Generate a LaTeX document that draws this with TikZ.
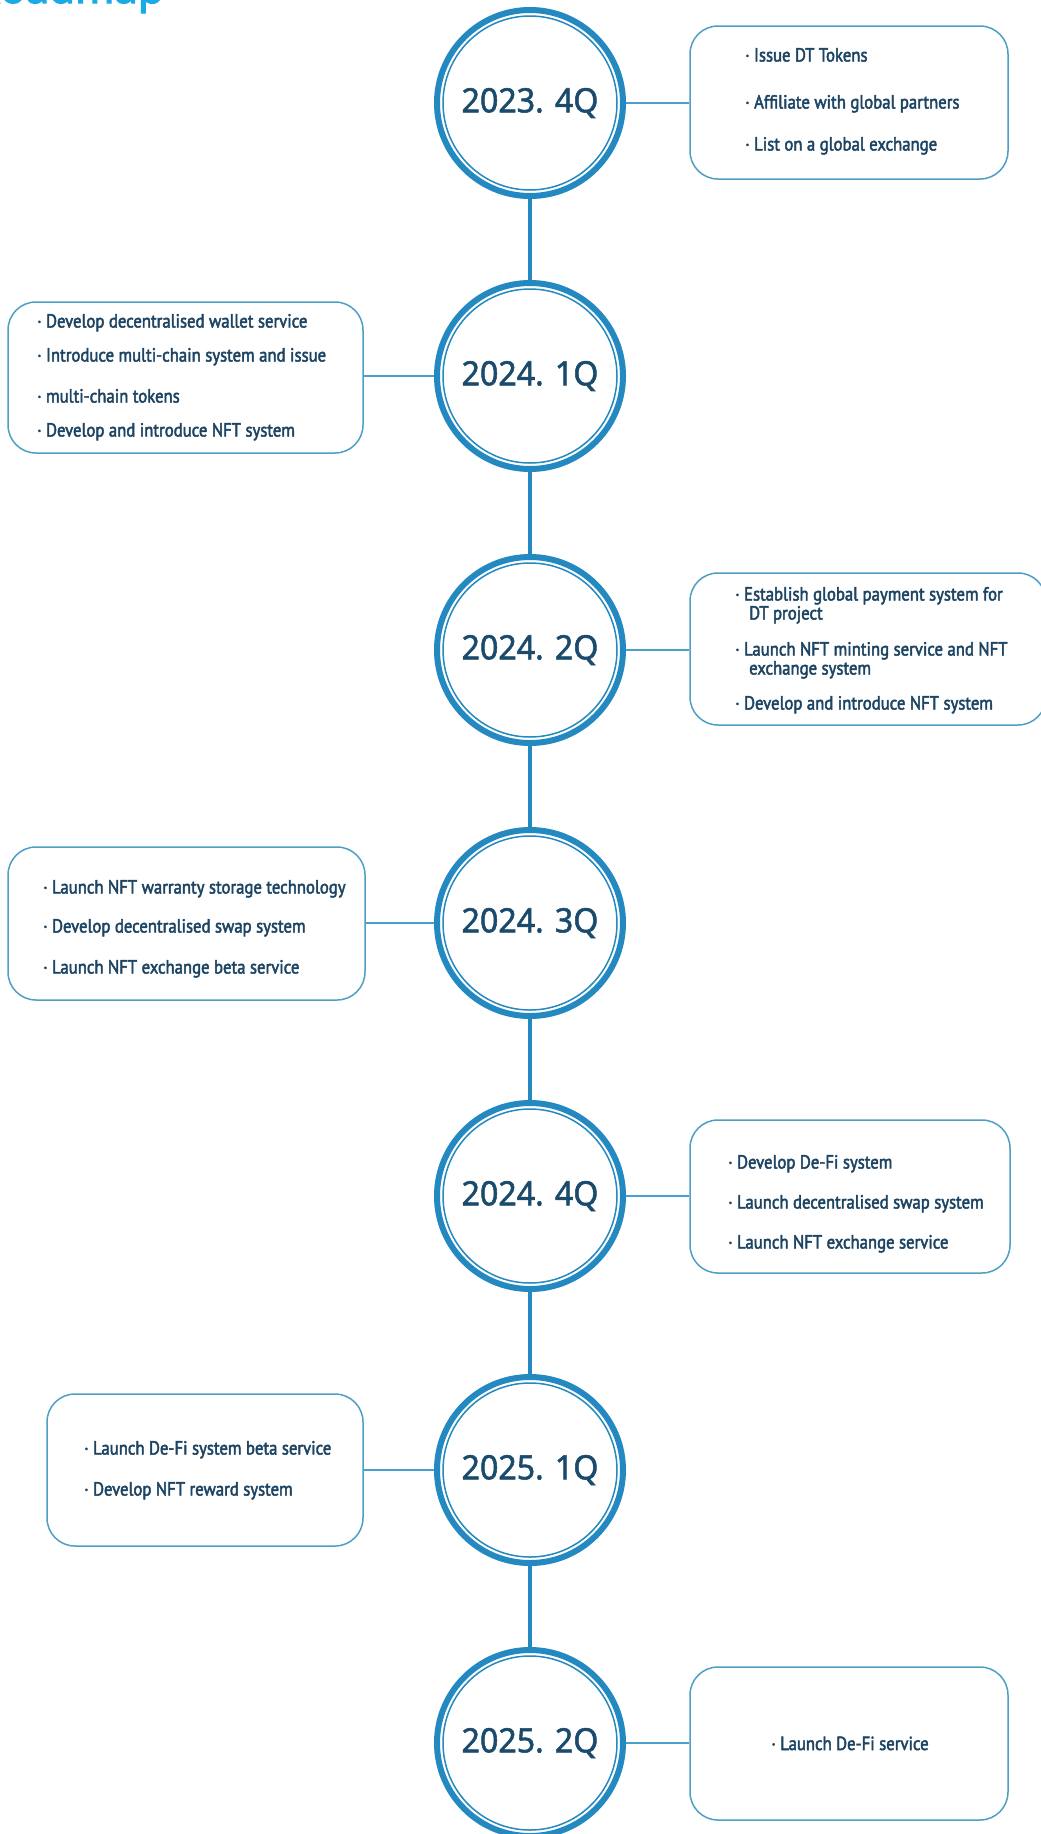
\documentclass[tikz,border=0pt]{standalone}
\usepackage{fontspec}
\newfontfamily\numfont{Noto Sans}[FakeBold=1.6, FakeStretch=0.96]
\newfontfamily\txtfont{PT Sans}[FakeBold=2.4, FakeStretch=0.88]
\newfontfamily\titlefont{Noto Sans}[FakeBold=3]
\definecolor{ringblue}{HTML}{2389C0}
\definecolor{connblue}{HTML}{4AA0CC}
\definecolor{boxblue}{HTML}{4F9FC4}
\definecolor{txtcol}{HTML}{1D4563}
\definecolor{numcol}{HTML}{1B4B6C}
\definecolor{titlecol}{HTML}{1AAAE6}
\tikzset{
  ring/.style={circle, draw=ringblue, line width=6pt, minimum size=186pt, inner sep=0pt,
    font=\numfont\fontsize{33.5}{40}\selectfont, text=numcol},
  innerring/.style={draw=ringblue, line width=1.5pt},
  spine/.style={draw=ringblue, line width=3.5pt},
  conn/.style={draw=connblue, line width=2pt},
  card/.style={rectangle, rounded corners=28pt, draw=boxblue, line width=1.5pt, inner sep=0pt},
  item/.style={anchor=base west, inner sep=0pt, text=txtcol, font=\txtfont\fontsize{19}{23}\selectfont},
  titletext/.style={anchor=base west, inner sep=0pt, text=titlecol, font=\titlefont\fontsize{42}{46}\selectfont}
}
\begin{document}
\begin{tikzpicture}[x=1pt,y=-1pt]
\clip (0,0) rectangle (1041,1834);
\fill[white] (0,0) rectangle (1041,1834);
\node[titletext] (title) at (-26,3) {Roadmap};

% circles
\node[ring] (c1) at (530,103) {2023. 4Q};
\node[ring] (c2) at (530,376) {2024. 1Q};
\node[ring] (c3) at (530,650) {2024. 2Q};
\node[ring] (c4) at (530,923) {2024. 3Q};
\node[ring] (c5) at (530,1196) {2024. 4Q};
\node[ring] (c6) at (530,1470) {2025. 1Q};
\node[ring] (c7) at (530,1743) {2025. 2Q};
\foreach \c in {c1,c2,c3,c4,c5,c6,c7} {\draw[innerring] (\c.center) circle (87);}

% spine
\draw[spine] (c1.south) -- (c2.north);
\draw[spine] (c2.south) -- (c3.north);
\draw[spine] (c3.south) -- (c4.north);
\draw[spine] (c4.south) -- (c5.north);
\draw[spine] (c5.south) -- (c6.north);
\draw[spine] (c6.south) -- (c7.north);

% cards
\node[card, minimum width=318pt, minimum height=153pt] (b1) at (849,102.5) {};
\node[card, minimum width=355pt, minimum height=151pt] (b2) at (185.5,377.5) {};
\node[card, minimum width=356pt, minimum height=152pt] (b3) at (868,649) {};
\node[card, minimum width=357pt, minimum height=153pt] (b4) at (186.5,923.5) {};
\node[card, minimum width=320pt, minimum height=153pt] (b5) at (850,1196.5) {};
\node[card, minimum width=316pt, minimum height=152pt] (b6) at (205,1470) {};
\node[card, minimum width=318pt, minimum height=153pt] (b7) at (849,1743.5) {};

% connectors
\draw[conn] (c1.east) -- (c1.east -| b1.west);
\draw[conn] (c2.west) -- (c2.west -| b2.east);
\draw[conn] (c3.east) -- (c3.east -| b3.west);
\draw[conn] (c4.west) -- (c4.west -| b4.east);
\draw[conn] (c5.east) -- (c5.east -| b5.west);
\draw[conn] (c6.west) -- (c6.west -| b6.east);
\draw[conn] (c7.east) -- (c7.east -| b7.west);

% texts
\node[item] (t11) at (745,61.5) {· Issue DT Tokens};
\node[item] (t12) at (745,108.5) {· Affiliate with global partners};
\node[item] (t13) at (745,150.5) {· List on a global exchange};

\node[item] (t21) at (37,327.5) {· Develop decentralised wallet service};
\node[item] (t22) at (37,361.5) {· Introduce multi-chain system and issue};
\node[item] (t23) at (37,402.5) {· multi-chain tokens};
\node[item] (t24) at (37,436.5) {· Develop and introduce NFT system};

\node[item] (t31) at (735,600.5) {· Establish global payment system for};
\node[item] (t32) at (749,619.5) {DT project};
\node[item] (t33) at (735,655.5) {· Launch NFT minting service and NFT};
\node[item] (t34) at (749,674.5) {exchange system};
\node[item] (t35) at (735,709.5) {· Develop and introduce NFT system};

\node[item] (t41) at (43,893.5) {· Launch NFT warranty storage technology};
\node[item] (t42) at (43,932.5) {· Develop decentralised swap system};
\node[item] (t43) at (43,973.5) {· Launch NFT exchange beta service};

\node[item] (t51) at (728,1168.5) {· Develop De-Fi system};
\node[item] (t52) at (728,1208.5) {· Launch decentralised swap system};
\node[item] (t53) at (728,1248.5) {· Launch NFT exchange service};

\node[item] (t61) at (84,1454.5) {· Launch De-Fi system beta service};
\node[item] (t62) at (84,1495.5) {· Develop NFT reward system};

\node[item, anchor=base] (t71) at (850,1750) {· Launch De-Fi service};
\end{tikzpicture}
\end{document}
